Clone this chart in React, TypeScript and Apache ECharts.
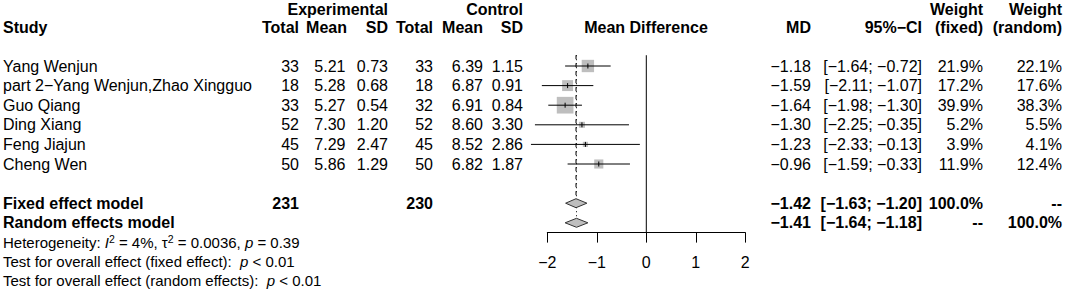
import React, { useEffect, useRef } from "react";
import * as echarts from "echarts";

// ---------- data ----------
const studies = [
  "Yang Wenjun",
  "part 2\u2212Yang Wenjun,Zhao Xingguo",
  "Guo Qiang",
  "Ding Xiang",
  "Feng Jiajun",
  "Cheng Wen",
];
const expTotal = [33, 18, 33, 52, 45, 50];
const expMean = [5.21, 5.28, 5.27, 7.3, 7.29, 5.86];
const expSD = [0.73, 0.68, 0.54, 1.2, 2.47, 1.29];
const ctrlTotal = [33, 18, 32, 52, 45, 50];
const ctrlMean = [6.39, 6.87, 6.91, 8.6, 8.52, 6.82];
const ctrlSD = [1.15, 0.91, 0.84, 3.3, 2.86, 1.87];
const md = [-1.18, -1.59, -1.64, -1.3, -1.23, -0.96];
const ciLow = [-1.64, -2.11, -1.98, -2.25, -2.33, -1.59];
const ciHigh = [-0.72, -1.07, -1.3, -0.35, -0.13, -0.33];
const wFixed = [21.9, 17.2, 39.9, 5.2, 3.9, 11.9];
const wRandom = [22.1, 17.6, 38.3, 5.5, 4.1, 12.4];

const pooledNames = ["Fixed effect model", "Random effects model"];
const pooledMD = [-1.42, -1.41];
const pooledLow = [-1.63, -1.64];
const pooledHigh = [-1.2, -1.18];
const pooledExpTotal = ["231", ""];
const pooledCtrlTotal = ["230", ""];
const pooledWFixed = ["100.0%", "--"];
const pooledWRandom = ["--", "100.0%"];
const pooledRows = [7, 8];

const xTicks = [-2, -1, 0, 1, 2];

// ---------- layout ----------
const FONT = "Liberation Sans, Arial, Helvetica, sans-serif";
const FS = 16;
const COL = {
  study: 3,
  expTotal: 299,
  expMean: 345.5,
  expSD: 388,
  ctrlTotal: 433,
  ctrlMean: 483,
  ctrlSD: 523,
  md: 811,
  ci: 922,
  wf: 983,
  wr: 1062,
};
const SQUARE_K = 2.64;

const minus = (s: string) => s.replace(/-/g, "\u2212");
const f2 = (v: number) => minus(v.toFixed(2));
const f1p = (v: number) => v.toFixed(1) + "%";
const ciStr = (lo: number, hi: number) => `[${f2(lo)}; ${f2(hi)}]`;

const txt = (
  x: number,
  y: number,
  text: string,
  align: string = "right",
  bold = false,
  size = FS
) => ({
  type: "text",
  x,
  y,
  silent: true,
  style: {
    text,
    fontSize: size,
    fontFamily: FONT,
    fontWeight: bold ? "bold" : "normal",
    fill: "#000",
    align,
    verticalAlign: "middle",
  },
});

export default function App() {
  const ref = useRef<HTMLDivElement>(null);

  useEffect(() => {
    if (!ref.current) return;
    const chart = echarts.init(ref.current, undefined, { renderer: "svg" });

    const studyData = studies.map((_, i) => [md[i], i, ciLow[i], ciHigh[i], wFixed[i]]);
    const pooledData = pooledNames.map((_, i) => [pooledMD[i], pooledRows[i], pooledLow[i], pooledHigh[i]]);

    const H1 = 9;
    const H2 = 27;
    const headers = [
      txt(COL.expSD, H1, "Experimental", "right", true),
      txt(COL.ctrlSD, H1, "Control", "right", true),
      txt(COL.wf, H1, "Weight", "right", true),
      txt(COL.wr, H1, "Weight", "right", true),
      txt(COL.study, H2, "Study", "left", true),
      txt(COL.expTotal, H2, "Total", "right", true),
      txt(COL.expMean + 1.5, H2, "Mean", "right", true),
      txt(COL.expSD, H2, "SD", "right", true),
      txt(COL.ctrlTotal, H2, "Total", "right", true),
      txt(COL.ctrlMean, H2, "Mean", "right", true),
      txt(COL.ctrlSD, H2, "SD", "right", true),
      txt(646, H2, "Mean Difference", "center", true),
      txt(COL.md, H2, "MD", "right", true),
      txt(COL.ci, H2, "95%\u2212CI", "right", true),
      txt(COL.wf, H2, "(fixed)", "right", true),
      txt(COL.wr, H2, "(random)", "right", true),
    ];

    const SFS = 15;
    const richBase = {
      fontSize: SFS,
      fontFamily: FONT,
      fill: "#000",
      lineHeight: 19,
      align: "left",
      verticalAlign: "middle",
      rich: {
        i: { fontStyle: "italic", fontSize: SFS, fontFamily: FONT, lineHeight: 19 },
        s: { fontSize: 10.5, fontFamily: FONT, lineHeight: 10, verticalAlign: "top" },
      },
    };
    const footer = [
      {
        type: "text",
        x: 3,
        y: 242.5,
        silent: true,
        style: {
          ...richBase,
          text: "Heterogeneity: {i|I}{s|2} = 4%, \u03c4{s|2} = 0.0036, {i|p} = 0.39",
        },
      },
      {
        type: "text",
        x: 3,
        y: 261.5,
        silent: true,
        style: { ...richBase, text: "Test for overall effect (fixed effect):\u00a0 {i|p} < 0.01" },
      },
      {
        type: "text",
        x: 3,
        y: 280.5,
        silent: true,
        style: { ...richBase, text: "Test for overall effect (random effects):\u00a0 {i|p} < 0.01" },
      },
    ];

    const option: any = {
      animation: false,
      grid: {
        left: 547.3,
        top: 46.4,
        width: 198,
        height: 186.2,
        containLabel: false,
        outerBoundsMode: "none",
      },
      xAxis: {
        type: "value",
        position: "bottom",
        min: xTicks[0],
        max: xTicks[xTicks.length - 1],
        interval: 1,
        splitLine: { show: false },
        axisLine: { show: true, onZero: false, lineStyle: { color: "#000", width: 1 } },
        axisTick: { show: true, length: 10, lineStyle: { color: "#000", width: 1 } },
        axisLabel: {
          color: "#000",
          fontSize: 16,
          fontFamily: FONT,
          margin: 22,
          formatter: (v: number) => minus(String(v)),
        },
      },
      yAxis: {
        type: "value",
        show: false,
        inverse: true,
        min: -1,
        max: 8.5,
        splitLine: { show: false },
        axisLine: { onZero: false },
      },
      graphic: [...headers, ...footer],
      series: [
        {
          type: "custom",
          name: "refs",
          clip: false,
          silent: true,
          data: [[0, 0]],
          renderItem: (_p: any, api: any) => {
            const z0 = api.coord([0, -0.55]);
            const z1 = api.coord([0, 8.5]);
            const f0 = api.coord([pooledMD[0], -0.55]);
            const f1 = api.coord([pooledMD[0], pooledRows[0] - 0.23]);
            const r0 = api.coord([pooledMD[1], -0.55]);
            const r1 = api.coord([pooledMD[1], pooledRows[1] - 0.23]);
            return {
              type: "group",
              children: [
                { type: "line", shape: { x1: z0[0], y1: z0[1], x2: z1[0], y2: z1[1] }, style: { stroke: "#000", lineWidth: 1 } },
                { type: "line", shape: { x1: f0[0], y1: f0[1], x2: f1[0], y2: f1[1] }, style: { stroke: "#000", lineWidth: 1, lineDash: [4, 4] } },
                { type: "line", shape: { x1: r0[0], y1: r0[1], x2: r1[0], y2: r1[1] }, style: { stroke: "#000", lineWidth: 1, lineDash: [1, 3] } },
              ],
            };
          },
        },
        {
          type: "custom",
          name: "studies",
          clip: false,
          silent: true,
          encode: { x: [0, 2, 3], y: 1 },
          data: studyData,
          z: 3,
          renderItem: (params: any, api: any) => {
            const i = params.dataIndex;
            const row = api.value(1);
            const c = api.coord([api.value(0), row]);
            const lo = api.coord([api.value(2), row]);
            const hi = api.coord([api.value(3), row]);
            const s = SQUARE_K * Math.sqrt(api.value(4));
            const y = c[1];
            return {
              type: "group",
              children: [
                { type: "rect", shape: { x: c[0] - s / 2, y: y - s / 2, width: s, height: s }, style: { fill: "#bebebe" } },
                { type: "line", shape: { x1: lo[0], y1: y, x2: hi[0], y2: y }, style: { stroke: "#000", lineWidth: 1 } },
                { type: "line", shape: { x1: c[0], y1: y - 2.5, x2: c[0], y2: y + 2.5 }, style: { stroke: "#000", lineWidth: 1 } },
                txt(COL.study, y, studies[i], "left"),
                txt(COL.expTotal, y, String(expTotal[i])),
                txt(COL.expMean, y, expMean[i].toFixed(2)),
                txt(COL.expSD, y, expSD[i].toFixed(2)),
                txt(COL.ctrlTotal, y, String(ctrlTotal[i])),
                txt(COL.ctrlMean, y, ctrlMean[i].toFixed(2)),
                txt(COL.ctrlSD, y, ctrlSD[i].toFixed(2)),
                txt(COL.md, y, f2(md[i])),
                txt(COL.ci, y, ciStr(ciLow[i], ciHigh[i])),
                txt(COL.wf, y, f1p(wFixed[i])),
                txt(COL.wr, y, f1p(wRandom[i])),
              ],
            };
          },
        },
        {
          type: "custom",
          name: "pooled",
          clip: false,
          silent: true,
          encode: { x: [0, 2, 3], y: 1 },
          data: pooledData,
          z: 3,
          renderItem: (params: any, api: any) => {
            const i = params.dataIndex;
            const row = api.value(1);
            const c = api.coord([api.value(0), row]);
            const lo = api.coord([api.value(2), row]);
            const hi = api.coord([api.value(3), row]);
            const y = c[1];
            const h = 4.5;
            return {
              type: "group",
              children: [
                {
                  type: "polygon",
                  shape: { points: [[lo[0], y], [c[0], y - h], [hi[0], y], [c[0], y + h]] },
                  style: { fill: "#bebebe", stroke: "#333", lineWidth: 1 },
                },
                txt(COL.study, y, pooledNames[i], "left", true),
                txt(COL.expTotal, y, pooledExpTotal[i], "right", true),
                txt(COL.ctrlTotal, y, pooledCtrlTotal[i], "right", true),
                txt(COL.md, y, f2(pooledMD[i]), "right", true),
                txt(COL.ci, y, ciStr(pooledLow[i], pooledHigh[i]), "right", true),
                txt(COL.wf, y, pooledWFixed[i], "right", true),
                txt(COL.wr, y, pooledWRandom[i], "right", true),
              ],
            };
          },
        },
      ],
    };

    chart.setOption(option);
    return () => chart.dispose();
  }, []);

  return (
    <div
      ref={ref}
      style={{ position: "absolute", left: 0, top: 0, width: 1065, height: 290, background: "#fff" }}
    />
  );
}
